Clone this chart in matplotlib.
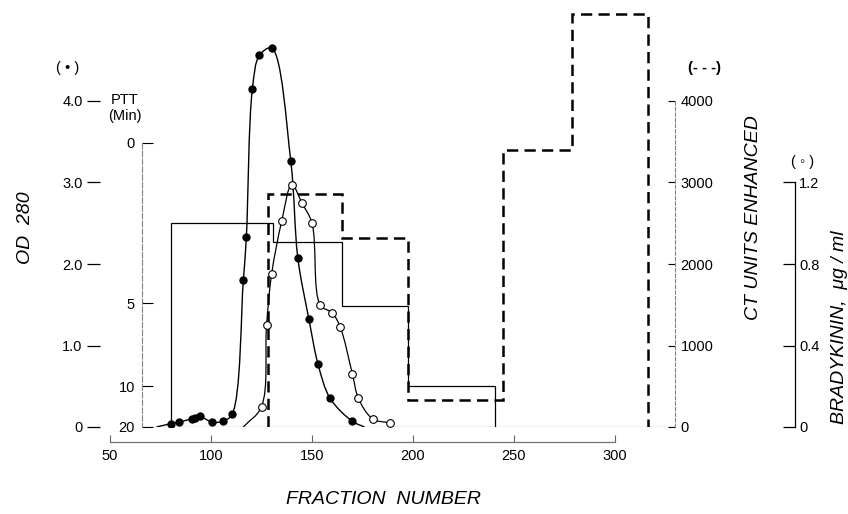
import numpy as np
import matplotlib.pyplot as plt
from matplotlib.path import Path
from matplotlib.patches import PathPatch

# OD 280 (filled circles), fraction number vs optical density
od_frac = [80, 84, 90.5, 92, 94.5, 100.5, 106, 110.5, 116, 117.5, 120.5, 124, 130,
           139.5, 143, 148.5, 153, 159, 170]
od_vals = [0.04, 0.06, 0.10, 0.11, 0.13, 0.06, 0.07, 0.16, 1.80, 2.33, 4.15, 4.56, 4.65,
           3.26, 2.07, 1.32, 0.77, 0.35, 0.07]
od_curve_start = [73, 0.0]   # where the drawn curve leaves the baseline
od_curve_end = [176, 0.0]

# bradykinin (open circles), ug/ml
brady_frac = [125, 127.5, 130, 135, 140, 145, 150, 154, 160, 164, 170, 173, 180, 188.5]
brady_vals = [0.10, 0.50, 0.75, 1.01, 1.19, 1.10, 1.00, 0.60, 0.56, 0.49, 0.26, 0.14,
              0.04, 0.02]
brady_curve_start = [116, 0.0]

# CT units enhanced (dashed histogram)
ct_edges = [128, 165, 197.5, 244.5, 278.5, 316.5]
ct_vals = [2860, 2320, 330, 3400, 5070]

# PTT in minutes (thin histogram)
ptt_edges = [80, 130.5, 165, 197.5, 240.5]
ptt_vals = [2.5, 3.1, 5.2, 10.0]

# the PTT axis is not linear: tick values and their height in OD units
ptt_knots = [-20, 0, 5, 10, 20, 60]
ptt_knot_od = [11.34, 3.485, 1.521, 0.503, 0.0, -2.01]

x_ticks = [50, 100, 150, 200, 250, 300]
od_ticks = [0, 1, 2, 3, 4]
od_ticklabels = ['0', '1.0', '2.0', '3.0', '4.0']
ptt_ticks = [0, 5, 10, 20]
ct_ticks = [0, 1000, 2000, 3000, 4000]
brady_ticks = [0, 0.4, 0.8, 1.2]
brady_ticklabels = ['0', '0.4', '0.8', '1.2']


# increasing helper for the scale: minus the OD height of a PTT value
def ptt_fwd(p):
    return -np.interp(p, ptt_knots, ptt_knot_od)


def ptt_inv(v):
    return np.interp(-np.asarray(v), ptt_knot_od[::-1], ptt_knots[::-1])


def smooth_path(xs, ys, sx, sy):
    # centripetal Catmull-Rom through the points, as cubic Bezier pieces
    # (sx, sy roughly turn data units into pixels so the curve bends evenly)
    p = np.column_stack([np.asarray(xs, float) * sx, np.asarray(ys, float) * sy])
    pts = np.vstack([2 * p[0] - p[1], p, 2 * p[-1] - p[-2]])
    verts = [p[0]]
    codes = [Path.MOVETO]
    for i in range(1, len(pts) - 2):
        p0, p1, p2, p3 = pts[i - 1], pts[i], pts[i + 1], pts[i + 2]
        d1 = np.linalg.norm(p1 - p0) ** 0.5
        d2 = np.linalg.norm(p2 - p1) ** 0.5
        d3 = np.linalg.norm(p3 - p2) ** 0.5
        b1 = (d1**2 * p2 - d2**2 * p0 + (2 * d1**2 + 3 * d1 * d2 + d2**2) * p1) / (3 * d1 * (d1 + d2))
        b2 = (d3**2 * p1 - d2**2 * p3 + (2 * d3**2 + 3 * d3 * d2 + d2**2) * p2) / (3 * d3 * (d3 + d2))
        verts += [b1, b2, p2]
        codes += [Path.CURVE4] * 3
    verts = np.array(verts) / [sx, sy]
    return Path(verts, codes)


plt.rcParams['font.family'] = ['Liberation Sans', 'DejaVu Sans']
plt.rcParams['font.size'] = 10.5

W, H = 848, 514
x_left, x_right = 110, 675
y_base = 427
px_per_od = 81.5
px_per_frac = 2.02
od_top = 5.12

fig = plt.figure(figsize=(W / 100, H / 100), dpi=100)
ax = fig.add_axes([x_left / W, (H - y_base) / H, (x_right - x_left) / W,
                   od_top * px_per_od / H])
ax.set_xlim(50, 50 + (x_right - x_left) / px_per_frac)
ax.set_ylim(0, od_top)


def ax_frac(px):
    return (px - x_left) / (x_right - x_left)


def fxy(px, py):
    return px / W, 1 - py / H


label_font = dict(family=['Liberation Sans Narrow', 'Liberation Sans', 'DejaVu Sans'],
                  style='italic', size=14)

# --- OD axis (left, ticks only) and fraction axis ---
for s in ['top', 'right']:
    ax.spines[s].set_visible(False)
ax.spines['left'].set_position(('axes', ax_frac(100)))
ax.spines['left'].set_color('none')
ax.set_yticks(od_ticks)
ax.set_yticklabels(od_ticklabels)
ax.tick_params(axis='y', direction='out', length=9.5, width=0.9, pad=3)
ax.spines['bottom'].set_position(('outward', 10.8))
ax.spines['bottom'].set_bounds(50, 300)
ax.spines['bottom'].set_color('0.45')
ax.spines['bottom'].set_linewidth(0.9)
ax.set_xticks(x_ticks)
ax.tick_params(axis='x', direction='in', length=5, width=0.8, color='0.4', pad=5)
ax.axhline(0, xmin=ax_frac(142), xmax=1, color='k', lw=0.8)

od_path = smooth_path([od_curve_start[0]] + od_frac + [od_curve_end[0]],
                      [od_curve_start[1]] + od_vals + [od_curve_end[1]],
                      px_per_frac, px_per_od)
ax.add_patch(PathPatch(od_path, fill=False, ec='k', lw=1.0))
ax.plot(od_frac, od_vals, 'o', color='k', ms=5, zorder=3)

# --- PTT axis ---
ax_ptt = ax.twinx()
ax_ptt.set_yscale('function', functions=(ptt_fwd, ptt_inv))
ax_ptt.set_ylim(20, float(ptt_inv(-od_top)))
for s in ['top', 'right', 'bottom']:
    ax_ptt.spines[s].set_visible(False)
ax_ptt.spines['left'].set_visible(True)
ax_ptt.spines['left'].set_position(('axes', ax_frac(142)))
ax_ptt.spines['left'].set_bounds(0, 20)
ax_ptt.spines['left'].set_color('0.5')
ax_ptt.spines['left'].set_linestyle((0, (5, 2)))
ax_ptt.spines['left'].set_linewidth(0.8)
ax_ptt.yaxis.set_ticks_position('left')
ax_ptt.set_yticks(ptt_ticks)
ax_ptt.set_yticklabels([str(t) for t in ptt_ticks])
ax_ptt.tick_params(axis='y', direction='in', length=8, width=0.8, pad=5)
ax_ptt.stairs(ptt_vals, ptt_edges, baseline=20, color='k', lw=0.9)

# --- CT axis ---
ax_ct = ax.twinx()
ax_ct.set_ylim(0, od_top * 1000)
for s in ['top', 'left', 'bottom']:
    ax_ct.spines[s].set_visible(False)
ax_ct.spines['right'].set_bounds(0, 4000)
ax_ct.spines['right'].set_color('0.5')
ax_ct.spines['right'].set_linestyle((0, (3, 2)))
ax_ct.spines['right'].set_linewidth(0.8)
ax_ct.set_yticks(ct_ticks)
ax_ct.tick_params(axis='y', direction='in', length=5, width=0.8, pad=4)
ax_ct.stairs(ct_vals, ct_edges, baseline=0, color='k', lw=1.8,
             linestyle=(0, (4.5, 2.5)))

# --- Bradykinin axis ---
ax_b = ax.twinx()
ax_b.set_ylim(0, od_top * 0.4)
for s in ['top', 'left', 'bottom']:
    ax_b.spines[s].set_visible(False)
ax_b.spines['right'].set_position(('axes', ax_frac(795)))
ax_b.spines['right'].set_bounds(0, 1.2)
ax_b.spines['right'].set_linewidth(0.9)
ax_b.set_yticks(brady_ticks)
ax_b.set_yticklabels(brady_ticklabels)
ax_b.tick_params(axis='y', direction='in', length=8.5, width=0.9, pad=3)
brady_path = smooth_path([brady_curve_start[0]] + brady_frac,
                         [brady_curve_start[1]] + brady_vals,
                         px_per_frac, px_per_od / 0.4)
ax_b.add_patch(PathPatch(brady_path, fill=False, ec='k', lw=0.9))
ax_b.plot(brady_frac, brady_vals, 'o', mfc='white', mec='k', mew=0.8, ms=5.5, zorder=3)

# --- labels ---
fig.text(*fxy(25, 228), 'OD  280', rotation=90, ha='center', va='center', **label_font)
fig.text(*fxy(753, 218), 'CT UNITS ENHANCED', rotation=90, ha='center', va='center',
         **label_font)
fig.text(*fxy(840, 327), 'BRADYKININ,  μg / ml', rotation=90, ha='center',
         va='center', **label_font)
fig.text(*fxy(383, 500), 'FRACTION  NUMBER', ha='center', va='center', **label_font)

fig.text(*fxy(68, 68), '( • )', ha='center', va='center', fontsize=10.5)
fig.text(*fxy(125, 108), 'PTT\n(Min)', ha='center', va='center', fontsize=10.5,
         linespacing=1.1)
fig.text(*fxy(705, 68), '(- - -)', ha='center', va='center', fontsize=10.5,
         fontweight='bold')
fig.text(*fxy(803, 162), '( ◦ )', ha='center', va='center', fontsize=10.5)

fig.savefig('out.png', dpi=100)
